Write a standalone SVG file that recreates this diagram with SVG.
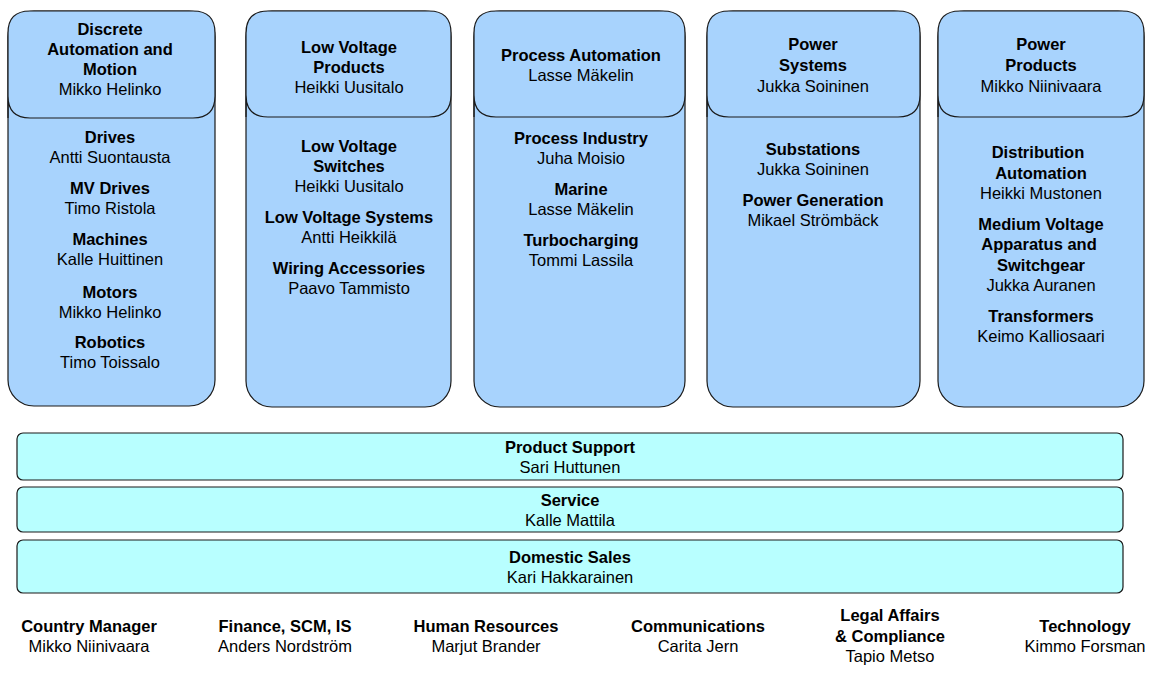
<svg xmlns="http://www.w3.org/2000/svg" width="1165" height="677" viewBox="0 0 1165 677">
<style>
.body{fill:#a8d3fd;stroke:#1a1a1a;stroke-width:1.2}
.band{fill:#b8ffff;stroke:#1a1a1a;stroke-width:1.2}
text{font-family:"Liberation Sans",Arial,sans-serif;font-size:16.5px;text-anchor:middle;fill:#000}
.b{font-weight:bold}
</style>
<rect width="1165" height="677" fill="#fff"/>
<g id="col1">
<rect class="body" x="8" y="11" width="207" height="395" rx="26"/>
<path class="body" d="M8,118 V33 Q8,11 30,11 H193 Q215,11 215,33 V96 Q215,118 193,118 H30 Q8,118 8,96 Z"/>
<text class="b" x="110" y="35">Discrete</text>
<text class="b" x="110" y="55">Automation and</text>
<text class="b" x="110" y="75">Motion</text>
<text x="110" y="95">Mikko Helinko</text>
<text class="b" x="110" y="143">Drives</text>
<text x="110" y="163">Antti Suontausta</text>
<text class="b" x="110" y="194">MV Drives</text>
<text x="110" y="214">Timo Ristola</text>
<text class="b" x="110" y="245">Machines</text>
<text x="110" y="265">Kalle Huittinen</text>
<text class="b" x="110" y="298">Motors</text>
<text x="110" y="318">Mikko Helinko</text>
<text class="b" x="110" y="348">Robotics</text>
<text x="110" y="368">Timo Toissalo</text>
</g>
<g id="col2">
<rect class="body" x="246" y="11" width="205" height="396" rx="26"/>
<path class="body" d="M246,117 V33 Q246,11 268,11 H429 Q451,11 451,33 V95 Q451,117 429,117 H268 Q246,117 246,95 Z"/>
<text class="b" x="349" y="53">Low Voltage</text>
<text class="b" x="349" y="73">Products</text>
<text x="349" y="93">Heikki Uusitalo</text>
<text class="b" x="349" y="152">Low Voltage</text>
<text class="b" x="349" y="172">Switches</text>
<text x="349" y="192">Heikki Uusitalo</text>
<text class="b" x="349" y="223">Low Voltage Systems</text>
<text x="349" y="243">Antti Heikkilä</text>
<text class="b" x="349" y="274">Wiring Accessories</text>
<text x="349" y="294">Paavo Tammisto</text>
</g>
<g id="col3">
<rect class="body" x="474" y="11" width="211" height="396" rx="26"/>
<path class="body" d="M474,117 V33 Q474,11 496,11 H663 Q685,11 685,33 V95 Q685,117 663,117 H496 Q474,117 474,95 Z"/>
<text class="b" x="581" y="61">Process Automation</text>
<text x="581" y="81">Lasse Mäkelin</text>
<text class="b" x="581" y="144">Process Industry</text>
<text x="581" y="164">Juha Moisio</text>
<text class="b" x="581" y="195">Marine</text>
<text x="581" y="215">Lasse Mäkelin</text>
<text class="b" x="581" y="246">Turbocharging</text>
<text x="581" y="266">Tommi Lassila</text>
</g>
<g id="col4">
<rect class="body" x="707" y="11" width="213" height="396" rx="26"/>
<path class="body" d="M707,117 V33 Q707,11 729,11 H898 Q920,11 920,33 V95 Q920,117 898,117 H729 Q707,117 707,95 Z"/>
<text class="b" x="813" y="50">Power</text>
<text class="b" x="813" y="71">Systems</text>
<text x="813" y="92">Jukka Soininen</text>
<text class="b" x="813" y="155">Substations</text>
<text x="813" y="175">Jukka Soininen</text>
<text class="b" x="813" y="206">Power Generation</text>
<text x="813" y="226">Mikael Strömbäck</text>
</g>
<g id="col5">
<rect class="body" x="938" y="11" width="206" height="396" rx="26"/>
<path class="body" d="M938,117 V33 Q938,11 960,11 H1122 Q1144,11 1144,33 V95 Q1144,117 1122,117 H960 Q938,117 938,95 Z"/>
<text class="b" x="1041" y="50">Power</text>
<text class="b" x="1041" y="71">Products</text>
<text x="1041" y="92">Mikko Niinivaara</text>
<text class="b" x="1038" y="158">Distribution</text>
<text class="b" x="1041" y="179">Automation</text>
<text x="1041" y="199">Heikki Mustonen</text>
<text class="b" x="1041" y="230">Medium Voltage</text>
<text class="b" x="1039" y="250">Apparatus and</text>
<text class="b" x="1041" y="271">Switchgear</text>
<text x="1041" y="291">Jukka Auranen</text>
<text class="b" x="1041" y="322">Transformers</text>
<text x="1041" y="342">Keimo Kalliosaari</text>
</g>
<g id="product-support">
<rect class="band" x="17" y="433" width="1106" height="47" rx="6"/>
<text class="b" x="570" y="453">Product Support</text>
<text x="570" y="473">Sari Huttunen</text>
</g>
<g id="service">
<rect class="band" x="17" y="487" width="1106" height="45" rx="6"/>
<text class="b" x="570" y="506">Service</text>
<text x="570" y="526">Kalle Mattila</text>
</g>
<g id="domestic-sales">
<rect class="band" x="17" y="540" width="1106" height="53" rx="6"/>
<text class="b" x="570" y="563">Domestic Sales</text>
<text x="570" y="583">Kari Hakkarainen</text>
</g>
<g id="country-manager">
<text class="b" x="89" y="632">Country Manager</text>
<text x="89" y="652">Mikko Niinivaara</text>
</g>
<g id="finance">
<text class="b" x="285" y="632">Finance, SCM, IS</text>
<text x="285" y="652">Anders Nordström</text>
</g>
<g id="hr">
<text class="b" x="486" y="632">Human Resources</text>
<text x="486" y="652">Marjut Brander</text>
</g>
<g id="communications">
<text class="b" x="698" y="632">Communications</text>
<text x="698" y="652">Carita Jern</text>
</g>
<g id="legal">
<text class="b" x="890" y="621">Legal Affairs</text>
<text class="b" x="890" y="642">&amp; Compliance</text>
<text x="890" y="662">Tapio Metso</text>
</g>
<g id="technology">
<text class="b" x="1085" y="632">Technology</text>
<text x="1085" y="652">Kimmo Forsman</text>
</g>
<g id="connectors"/>
</svg>
